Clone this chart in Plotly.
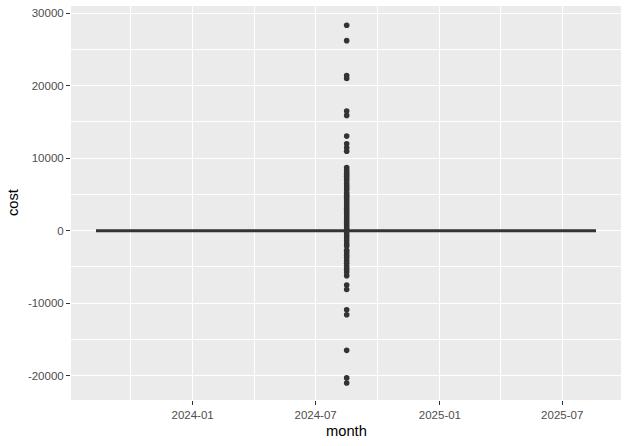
import plotly.graph_objects as go

# ---- data ----
line_months = ["2023-08-11", "2025-08-20"]
line_cost = [0, 0]

point_month = "2024-08-16"
point_costs = [
    28330, 26210, 21400, 21000, 16500, 15900, 13050, 12000, 11450, 10950,
    8700, 8400, 8100, 7800, 7500, 7200, 6900, 6500, 6200, 5900, 5600, 5200,
    4900, 4600, 4300, 4000, 3700, 3400, 3100, 2800, 2500, 2200, 1900, 1600,
    1300, 1000, 700, 400, 150,
    -300, -650, -1000, -1400, -1800, -2100, -2700, -3000, -3400, -3700,
    -4100, -4500, -4900, -5300, -5700, -6200, -7500, -8100,
    -10900, -11600, -16500, -20300, -21000,
]
point_months = [point_month] * len(point_costs)

x_range = ["2023-07-05", "2025-09-26"]
y_range = [-23350, 30990]
y_ticks = [-20000, -10000, 0, 10000, 20000, 30000]
y_ticklabels = ["-20000", "-10000", "0", "10000", "20000", "30000"]

INK = "#333333"
FONT = "Liberation Sans, Arial, sans-serif"

fig = go.Figure()
fig.add_trace(go.Scatter(
    x=line_months, y=line_cost, mode="lines",
    line=dict(color=INK, width=3), hoverinfo="skip", showlegend=False,
))
fig.add_trace(go.Scatter(
    x=point_months, y=point_costs, mode="markers",
    marker=dict(color=INK, size=5.6, line=dict(width=0)),
    showlegend=False,
))

fig.update_layout(
    width=629, height=446,
    margin=dict(l=71, r=8, t=6, b=46),
    paper_bgcolor="white",
    plot_bgcolor="#EBEBEB",
    font=dict(family=FONT, color="#4D4D4D", size=11.5),
    showlegend=False,
    xaxis=dict(
        type="date", range=x_range,
        tick0="2024-01-01", dtick="M6", tickformat="%Y-%m",
        showgrid=True, gridcolor="white", gridwidth=1.1,
        minor=dict(showgrid=True, gridcolor="white", gridwidth=0.55,
                   dtick="M3", tick0="2024-01-01", ticks=""),
        ticks="outside", ticklen=4, tickwidth=1.1, tickcolor=INK,
        tickfont=dict(family=FONT, size=11.5, color="#4D4D4D"),
        zeroline=False, showline=False,
    ),
    yaxis=dict(
        range=y_range,
        tickmode="array", tickvals=y_ticks, ticktext=y_ticklabels,
        showgrid=True, gridcolor="white", gridwidth=1.1,
        minor=dict(showgrid=True, gridcolor="white", gridwidth=0.55,
                   dtick=5000, tick0=0, ticks=""),
        ticks="outside", ticklen=4, tickwidth=1.1, tickcolor=INK,
        tickfont=dict(family=FONT, size=11.5, color="#4D4D4D"),
        zeroline=False, showline=False,
    ),
    annotations=[
        dict(text="month", xref="paper", yref="paper", x=0.5, y=0,
             xanchor="center", yanchor="middle", yshift=-31, showarrow=False,
             font=dict(family=FONT, size=14.7, color="black")),
        dict(text="cost", xref="paper", yref="paper", x=0, y=0.5,
             xanchor="center", yanchor="middle", xshift=-58, textangle=-90,
             showarrow=False, font=dict(family=FONT, size=14.7, color="black")),
    ],
)

fig.write_html(
    "out.html",
    config={"displayModeBar": False},
    post_script="document.body.style.margin='0';document.body.style.padding='0';",
)
